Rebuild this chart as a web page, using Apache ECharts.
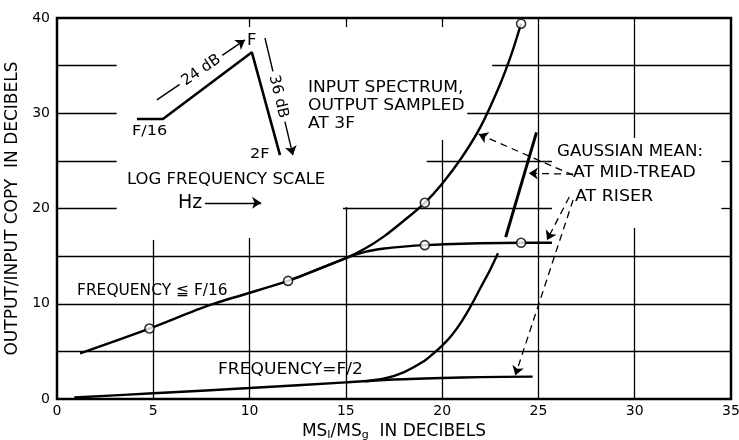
<!DOCTYPE html>
<html><head><meta charset="utf-8">
<script src="https://cdn.jsdelivr.net/npm/echarts@6/dist/echarts.min.js"></script>
<style>html,body{margin:0;padding:0;background:#fff}#c{width:739px;height:440px}</style>
</head><body><div id="c"></div><script>
// ---- data ----
const xTickValues = [0, 5, 10, 15, 20, 25, 30, 35];
const yTickValues = [0, 10, 20, 30, 40];
const lowFreqCurve = [[1.2,4.8],[4.8,7.4],[8,9.9],[12,12.4],[15,14.8],[16,15.45],[17,15.8],[18,16.0],[19.1,16.15],[21,16.3],[24.1,16.4],[25.7,16.4]];
const spectrumCurve = [[12,12.4],[15,14.8],[16,15.8],[17,17.1],[18,18.7],[19.1,20.6],[20,22.6],[21,25.3],[22,28.6],[23,33.0],[23.6,36.2],[24.1,39.4]];
const halfFreqCurve = [[0.9,0.15],[5,0.6],[10,1.15],[15,1.75],[17,2.0],[20,2.2],[22,2.3],[24.7,2.35]];
const riserCurve = [[16,1.85],[17,2.15],[18,2.8],[19,3.9],[19.5,4.7],[20,5.6],[20.5,6.7],[21,8.1],[21.5,9.8],[22,11.7],[22.5,13.6],[22.9,15.3]];
const midTreadSegment = [[23.3,17.0],[24.9,28.0]];
const spectrumMarkers = [[4.8,7.4],[12,12.4],[19.1,20.6],[24.1,39.4]];
const flatMarkers = [[19.1,16.15],[24.1,16.4]];
// inset sketch (log frequency scale spectrum), in axis units
const insetPath = [[4.15,29.4],[5.5,29.4],[10.12,36.4],[11.58,25.6]];
const insetArrow24 = [[5.19,31.4],[9.76,37.7]];
const insetArrow36 = [[10.8,37.9],[12.25,25.6]];
const hzArrow = [[7.68,20.6],[10.6,20.6]];
// annotation arrows
const arrowToSpectrum = [[26.8,23.5],[21.9,27.8]];
const arrowToMidTread = [[26.8,23.6],[24.5,23.7]];
const arrowToFlat = [[26.6,21.2],[25.45,16.7]];
const arrowToHalfFreq = [[26.8,20.9],[23.8,2.5]];
// partial grid rules (grid is interrupted around the lettering)
const vRules = [[5,0,16.7],[10,0,16.9],[10,39.05,40],[15,0,20.15],[15,39.05,40],[20,0,27.2],[20,39.05,40],[25,0,40],[30,0,17.95],[30,27.4,40]];
const hRules = [[5,0,35],[10,0,35],[15,0,35],[20,0,3.1],[20,14.85,25.7],[20,34.5,35],[25,0,3.1],[25,19.2,25.7],[25,34.5,35],[30,0,3.1],[30,21.3,35],[35,0,3.1],[35,22.6,35]];

const FONT = 'DejaVu Sans';
const chart = echarts.init(document.getElementById('c'), null, {renderer:'canvas'});

const ruleData = [];
vRules.forEach(r => ruleData.push([{coord:[r[0], r[1]]},{coord:[r[0], r[2]]}]));
hRules.forEach(r => ruleData.push([{coord:[r[1], r[0]]},{coord:[r[2], r[0]]}]));

function arrowLine(pts, opts) {
  return [Object.assign({coord: pts[0], symbol:'none'}, opts||{}), {coord: pts[pts.length-1], symbol:'arrow'}];
}
const curveStyle = {color:'#000', width:2.4};
function curve(data, extra) {
  return Object.assign({type:'line', data, showSymbol:false, symbol:'none', smooth:0.3,
    lineStyle:curveStyle, z:3, silent:true, animation:false}, extra||{});
}
const inlineLabel = t => ({show:true, position:'middle', formatter:t, color:'#000', fontFamily:FONT, fontSize:15,
  backgroundColor:'#fff', padding:[1,4], distance:-9});

const option = {
  animation:false,
  backgroundColor:'#fff',
  grid:{left:57, right:8, top:18, bottom:41, containLabel:false, outerBoundsMode:'none',
    show:true, borderColor:'#000', borderWidth:2.5, backgroundColor:'transparent'},
  xAxis:{type:'value', min:0, max:35, interval:5,
    axisLine:{show:false}, axisTick:{show:false}, splitLine:{show:false},
    axisLabel:{color:'#000', fontFamily:FONT, fontSize:14, margin:5,
      formatter: v => xTickValues.includes(v) ? String(v) : ''},
    name:'MS{sub|I}/MS{sub|g}  IN DECIBELS', nameLocation:'middle', nameGap:21,
    nameTextStyle:{color:'#000', fontFamily:FONT, fontSize:17,
      rich:{sub:{fontFamily:FONT, fontSize:11, color:'#000', padding:[8,0,0,0]}}}},
  yAxis:{type:'value', min:0, max:40, interval:10,
    axisLine:{show:false}, axisTick:{show:false}, splitLine:{show:false},
    axisLabel:{color:'#000', fontFamily:FONT, fontSize:14, margin:7,
      formatter: v => yTickValues.includes(v) ? String(v) : ''},
    name:'OUTPUT/INPUT COPY  IN DECIBELS', nameLocation:'middle', nameGap:32, nameRotate:90,
    nameTextStyle:{color:'#000', fontFamily:FONT, fontSize:17}},
  series:[
    {type:'line', data:[], z:1, silent:true,
      markLine:{silent:true, symbol:'none', z:1, animation:false, label:{show:false},
        lineStyle:{color:'#000', width:1.3, type:'solid'}, data:ruleData}},
    curve(lowFreqCurve),
    curve(spectrumCurve),
    curve(halfFreqCurve),
    curve(riserCurve),
    curve(midTreadSegment, {smooth:false, lineStyle:{color:'#000', width:3}}),
    curve(insetPath, {smooth:false, lineStyle:{color:'#000', width:2.6}}),
    {type:'scatter', data:spectrumMarkers.concat(flatMarkers), symbol:'circle', symbolSize:9, z:6, silent:true,
      itemStyle:{color:'#fff', borderColor:'#000', borderWidth:1.6}},
    {type:'line', data:[], z:4, silent:true,
      markLine:{silent:true, z:4, animation:false, symbolSize:9,
        lineStyle:{color:'#000', width:1.3, type:[7,5]}, label:{show:false},
        data:[arrowLine(arrowToSpectrum), arrowLine(arrowToMidTread), arrowLine(arrowToFlat),
          arrowLine(arrowToHalfFreq, {lineStyle:{curveness:0.07}})]}},
    {type:'line', data:[], z:4, silent:true,
      markLine:{silent:true, z:4, animation:false, symbolSize:9,
        lineStyle:{color:'#000', width:1.4, type:'solid'}, label:{show:false},
        data:[
          arrowLine(insetArrow24, {label:inlineLabel('24 dB')}),
          arrowLine(insetArrow36, {label:inlineLabel('36 dB')}),
          arrowLine(hzArrow)
        ]}}
  ],
  graphic:[]
};

function txt(text, x, y, size, sx) {
  return {type:'text', x, y, z:10, silent:true, scaleX: sx || 1.13,
    style:{text, fill:'#000', font: (size||15) + 'px "' + FONT + '"', verticalAlign:'middle', align:'left', lineHeight:18}};
}
option.graphic = [
  txt('INPUT SPECTRUM,\nOUTPUT SAMPLED\nAT 3F', 308, 106, 15, 1.14),
  txt('LOG FREQUENCY SCALE', 127, 180, 15, 1.10),
  txt('Hz', 178, 203, 19, 1.0),
  txt('F/16', 132, 131, 14, 1.15),
  txt('F', 247, 41, 15, 1.1),
  txt('2F', 250, 154, 14, 1.15),
  txt('FREQUENCY \u2266 F/16', 77, 291, 15, 1.03),
  txt('FREQUENCY=F/2', 218, 370, 15, 1.14),
  txt('GAUSSIAN MEAN:', 557, 152, 15, 1.11),
  txt('AT MID-TREAD', 573, 173, 15, 1.15),
  txt('AT RISER', 575, 197, 15, 1.16)
];
chart.setOption(option);
</script></body></html>
